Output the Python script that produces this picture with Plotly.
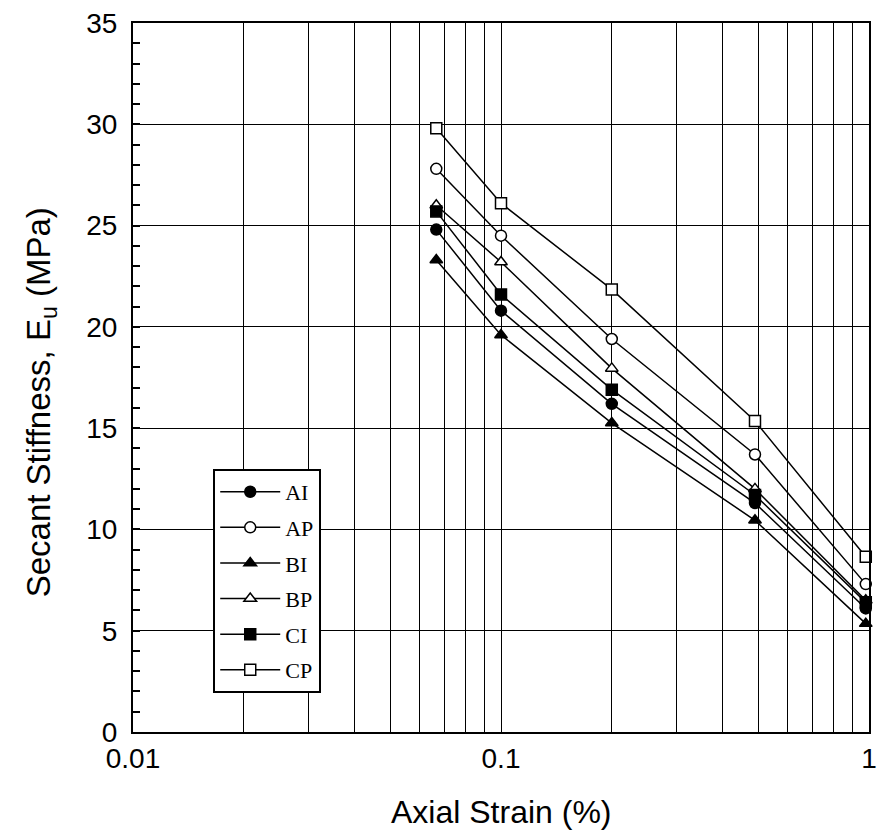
import plotly.graph_objects as go

# ---- data ----
strain = [0.0667, 0.1, 0.2, 0.49, 0.98]
series_names = ["AI", "AP", "BI", "BP", "CI", "CP"]
AI = [24.8, 20.8, 16.2, 11.3, 6.1]
AP = [27.8, 24.5, 19.4, 13.7, 7.3]
BI = [23.3, 19.6, 15.25, 10.45, 5.35]
BP = [26.0, 23.2, 17.95, 12.0, 6.5]
CI = [25.7, 21.6, 16.9, 11.7, 6.4]
CP = [29.8, 26.1, 21.85, 15.35, 8.65]
x_tick_vals = [0.01, 0.02, 0.03, 0.04, 0.05, 0.06, 0.07, 0.08, 0.09,
               0.1, 0.2, 0.3, 0.4, 0.5, 0.6, 0.7, 0.8, 0.9, 1]
x_tick_text = ["0.01", "", "", "", "", "", "", "", "",
               "0.1", "", "", "", "", "", "", "", "", "1"]
y_tick_vals = [0, 5, 10, 15, 20, 25, 30, 35]

values = [AI, AP, BI, BP, CI, CP]
symbols = ["circle", "circle", "triangle-up", "triangle-up", "square", "square"]
fills = ["black", "white", "black", "white", "black", "white"]

fig = go.Figure()
for i, (name, yv) in enumerate(zip(series_names, values)):
    fig.add_trace(go.Scatter(
        x=strain, y=yv, name=name, mode="lines+markers",
        legendgroup="g%d" % i,
        line=dict(color="black", width=1.5),
        marker=dict(symbol=symbols[i], size=11, color=fills[i],
                    line=dict(color="black", width=1.5)),
        cliponaxis=False,
    ))

fig.update_layout(
    width=884, height=836,
    margin=dict(l=133, r=7, t=23, b=104),
    paper_bgcolor="white", plot_bgcolor="white",
    font=dict(family="Liberation Sans, Arial, sans-serif", color="black"),
    showlegend=True,
    legend=dict(
        x=0.109, y=0.371, xanchor="left", yanchor="top",
        bgcolor="white", bordercolor="black", borderwidth=2,
        font=dict(family="Liberation Serif, Times New Roman, serif", size=22, color="black"),
        itemwidth=60, tracegroupgap=4,
    ),
    annotations=[
        dict(text="Axial Strain (%)", xref="paper", yref="paper",
             x=0.5, y=-0.113, xanchor="center", yanchor="middle",
             showarrow=False, font=dict(size=32)),
        dict(text="Secant Stiffness, E<sub>u</sub> (MPa)", xref="paper", yref="paper",
             x=-0.125, y=0.465, xanchor="center", yanchor="middle",
             textangle=-90, showarrow=False, font=dict(size=33)),
    ],
)

fig.update_xaxes(
    type="log", range=[-2, 0],
    tickmode="array", tickvals=x_tick_vals, ticktext=x_tick_text,
    tickangle=0,
    showgrid=True, gridcolor="black", gridwidth=1.3,
    showline=True, linecolor="black", linewidth=2, mirror=True,
    ticks="", tickfont=dict(size=28), ticklabelstandoff=0,
    zeroline=False,
)
fig.update_yaxes(
    range=[0, 35], tickmode="array", tickvals=y_tick_vals,
    showgrid=True, gridcolor="black", gridwidth=1.3,
    showline=True, linecolor="black", linewidth=2, mirror=True,
    ticks="inside", ticklen=7, tickwidth=2, tickcolor="black",
    minor=dict(dtick=1, ticks="inside", ticklen=7, tickwidth=2,
               tickcolor="black", showgrid=False),
    tickfont=dict(size=28), ticklabelstandoff=8,
    zeroline=False,
)

fig.write_html("out.html")
